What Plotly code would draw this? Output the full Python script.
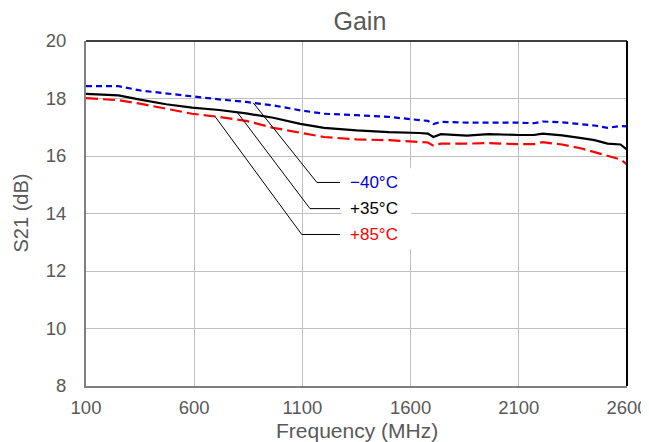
import numpy as np
import plotly.graph_objects as go

freq_mhz = [100, 250, 350, 470, 590, 715, 840, 965, 1090, 1200, 1350, 1500, 1640, 1680,
            1705, 1740, 1860, 1960, 2100, 2170, 2210, 2300, 2390, 2450, 2510, 2570, 2600]
gain_m40 = [18.43, 18.43, 18.28, 18.17, 18.06, 17.97, 17.88, 17.76, 17.59, 17.47, 17.42, 17.36,
            17.25, 17.22, 17.11, 17.19, 17.16, 17.17, 17.16, 17.14, 17.20, 17.17, 17.11, 17.06,
            16.98, 17.04, 17.03]
gain_p35 = [18.16, 18.11, 17.96, 17.80, 17.68, 17.60, 17.48, 17.33, 17.12, 16.98, 16.89, 16.83,
            16.80, 16.78, 16.66, 16.76, 16.71, 16.76, 16.73, 16.73, 16.78, 16.72, 16.62, 16.55,
            16.43, 16.40, 16.22]
gain_p85 = [18.01, 17.94, 17.82, 17.65, 17.47, 17.36, 17.22, 16.98, 16.80, 16.66, 16.58, 16.55,
            16.49, 16.47, 16.36, 16.43, 16.43, 16.45, 16.41, 16.41, 16.48, 16.40, 16.26, 16.13,
            16.01, 15.88, 15.71]

series_names = ["−40°C", "+35°C", "+85°C"]
x_ticks = [100, 600, 1100, 1600, 2100, 2600]
y_ticks = [8, 10, 12, 14, 16, 18, 20]

# callout anchors (frequency on curve, bend point, label level)
leader_from = [873, 799, 696]
leader_bend_x = [1167, 1135, 1097]
label_y = [15.08, 14.17, 13.27]
label_x = 1274

colors = ["#0000DD", "#000000", "#FF0000"]
dashes = ["6px,4px", "solid", "12px,5px"]
series = [gain_m40, gain_p35, gain_p85]

W, H = 641, 434  # page adds an 8px body margin
ML, MR, MT, MB = 78, 22, 33, 56

fig = go.Figure()
for name, ys, c, d in zip(series_names, series, colors, dashes):
    fig.add_trace(go.Scatter(x=freq_mhz, y=ys, mode="lines", name=name,
                             line=dict(color=c, width=2.2, dash=d), showlegend=False))

# white box behind labels (covers gridlines)
fig.add_shape(type="rect", xref="x", yref="y", x0=1281, x1=1603, y0=12.76, y1=15.57,
              fillcolor="white", line=dict(width=0), layer="between")

for i, (name, ys, c) in enumerate(zip(series_names, series, colors)):
    x0 = leader_from[i]
    y0 = float(np.interp(x0, freq_mhz, ys))
    fig.add_shape(type="line", xref="x", yref="y", x0=x0, y0=y0,
                  x1=leader_bend_x[i], y1=label_y[i], line=dict(color="black", width=1))
    fig.add_shape(type="line", xref="x", yref="y", x0=leader_bend_x[i], y0=label_y[i],
                  x1=label_x, y1=label_y[i], line=dict(color="black", width=1))
    fig.add_annotation(x=label_x + 38, y=label_y[i], xref="x", yref="y", text=name,
                       showarrow=False, xanchor="left", yanchor="middle",
                       font=dict(family="Liberation Sans, Arial", size=17, color=c))

# top and right black border
fig.add_shape(type="line", xref="paper", yref="paper", x0=0, x1=1, y0=1, y1=1,
              line=dict(color="black", width=1.5))
fig.add_shape(type="line", xref="paper", yref="paper", x0=1, x1=1, y0=0, y1=1,
              line=dict(color="black", width=2))

# axis titles
fig.add_annotation(text="Frequency (MHz)", xref="paper", yref="paper", x=0.5, y=0,
                   yshift=-44, xanchor="center", yanchor="middle", showarrow=False,
                   font=dict(size=21, color="#595959"))
fig.add_annotation(text="S21 (dB)", xref="paper", yref="paper", x=0, y=0.5,
                   xshift=-(ML - 12), xanchor="center", yanchor="middle", showarrow=False,
                   textangle=-90, font=dict(size=20, color="#595959"))

fig.update_layout(
    width=W, height=H,
    margin=dict(l=ML, r=MR, t=MT, b=MB, autoexpand=False),
    paper_bgcolor="white", plot_bgcolor="white",
    font=dict(family="Liberation Sans, Arial", color="#595959"),
    title=dict(text="Gain", x=0.549, xanchor="center", y=1 - 13 / H, yanchor="middle",
               yref="container", font=dict(size=25, color="#595959")),
    xaxis=dict(range=[100, 2600], tickvals=x_ticks, ticktext=[str(v) for v in x_ticks],
               showgrid=True, gridcolor="#BFBFBF", gridwidth=1, automargin=False,
               showline=True, linecolor="#7F7F7F", linewidth=2, zeroline=False,
               ticks="", tickfont=dict(size=18.5, color="#595959"), ticklabelstandoff=4),
    yaxis=dict(range=[8, 20], tickvals=y_ticks, showgrid=True, gridcolor="#BFBFBF", gridwidth=1,
               showline=True, linecolor="#7F7F7F", linewidth=2, zeroline=False, automargin=False,
               ticks="", tickfont=dict(size=18.5, color="#595959"), ticklabelstandoff=14),
)

fig.write_html("out.html")
